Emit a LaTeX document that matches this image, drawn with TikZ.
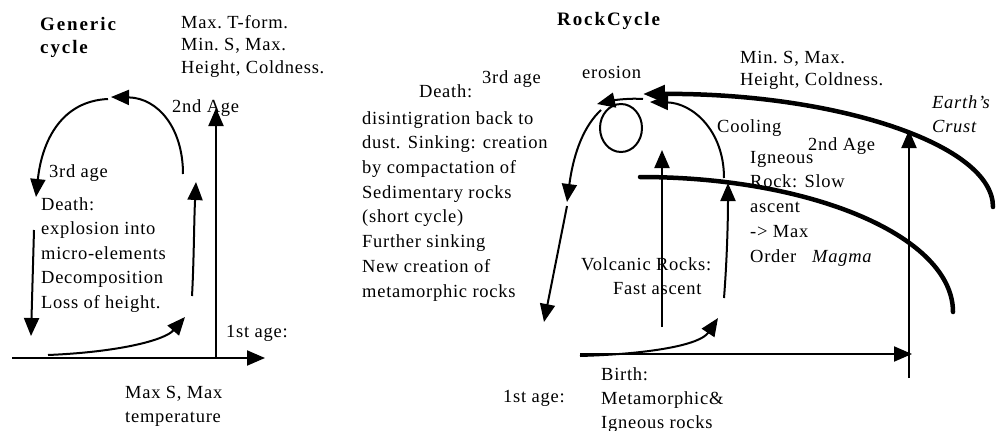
\documentclass[tikz,border=0pt]{standalone}
\usepackage{fontspec}
\setmainfont{Liberation Serif}[LetterSpace=4]
\usepackage{tikz}
\usetikzlibrary{arrows.meta}

\tikzset{
  txt/.style={anchor=base west, inner sep=0pt, align=left,
    font=\fontsize{18.5}{24.5}\selectfont},
  ttl/.style={txt, font=\fontsize{19}{23}\selectfont\bfseries\addfontfeature{LetterSpace=10}},
  lab/.style={txt, font=\fontsize{18.5}{24}\selectfont\itshape},
  ax/.style={line width=2pt, -{Triangle[length=18pt,width=15pt]}},
  cyc/.style={line width=2pt, -{Triangle[length=18pt,width=15pt]}},
  flow/.style={line width=2pt},
  layer/.style={line width=4.5pt, line cap=round}
}

\begin{document}
\begin{tikzpicture}[x=1pt,y=-1pt]
    \useasboundingbox (0,0) rectangle (997,431);

    % Generic cycle: texts (anchored at the last line)
    \node[ttl] (gentitle) at (40,53) {Generic\\cycle};
    \node[txt, font=\fontsize{18.5}{22.5}\selectfont] (genmax) at (181,73)
        {Max.\ T-form.\\Min.\ S, Max.\\Height, Coldness.};
    \node[txt] (gen2nd) at (172,112) {2nd Age};
    \node[txt] (gen3rd) at (49,177) {3rd age};
    \node[txt] (gendeath) at (41,308)
        {Death:\\explosion into\\micro-elements\\Decomposition\\Loss of height.};
    \node[txt] (gen1st) at (226,337) {1st age:};
    \node[txt, font=\fontsize{18.5}{24}\selectfont] (genmaxs) at (125,422)
        {Max S, Max\\temperature};

    % Generic cycle: axes
    \coordinate (gO) at (216,358);
    \coordinate (gxs) at (12,358);
    \coordinate (gxe) at (265,358);
    \coordinate (gye) at (216,108);
    \draw[ax] (gxs) -- (gxe);
    \draw[ax] (gO) -- (gye);

    % Generic cycle: the loop
    \coordinate (g1) at (48,355);
    \coordinate (g2) at (185,317);
    \coordinate (g3) at (192,296);
    \coordinate (g4) at (196,182);
    \coordinate (g5) at (183,174);
    \coordinate (g6) at (111,97);
    \coordinate (g7) at (108,99);
    \coordinate (g8) at (36,197);
    \coordinate (g9) at (34,230);
    \coordinate (g10) at (31,336);
    \draw[cyc] (g1) .. controls (120,352) and (165,340) .. (g2);
    \draw[cyc] (g3) .. controls (194,260) and (194,220) .. (g4);
    \draw[cyc] (g5) .. controls (183,128) and (158,98) .. (g6);
    \draw[cyc] (g7) .. controls (62,101) and (42,140) .. (g8);
    \draw[cyc] (g9) -- (g10);

    % Rock cycle: texts (anchored at the last line)
    \node[ttl] (rctitle) at (557,25) {RockCycle};
    \node[txt, font=\fontsize{18.5}{22}\selectfont] (rcmin) at (740,85)
        {Min.\ S, Max.\\Height, Coldness.};
    \node[txt] (rcero) at (582,78) {erosion};
    \node[txt] (rc3rd) at (482,83) {3rd age};
    \node[txt] (rcdeath) at (419,97) {Death:};
    \node[txt, font=\fontsize{18.5}{24.7}\selectfont] (rcdesc) at (362,297)
        {disintigration back to\\dust. Sinking: creation\\by compactation of\\Sedimentary rocks\\(short cycle)\\Further sinking\\New creation of\\metamorphic rocks};
    \node[txt] (rc1st) at (503,402) {1st age:};
    \node[txt, font=\fontsize{18.5}{24}\selectfont] (rcbirth) at (601,428)
        {Birth:\\Metamorphic\&\\Igneous rocks};
    \node[txt] (rcvolc) at (581,294.5) {Volcanic Rocks:\\\hspace*{32pt}Fast ascent};
    \node[txt] (rccool) at (717,132) {Cooling};
    \node[txt] (rc2nd) at (808,150) {2nd Age};
    \node[txt, font=\fontsize{18.5}{24.75}\selectfont] (rcign) at (750,262)
        {Igneous\\Rock: Slow\\ascent\\-> Max\\Order};
    \node[lab] (rcmagma) at (812,262) {Magma};
    \node[lab] (rccrust) at (932,132) {Earth's\\Crust};

    % Rock cycle: axes
    \coordinate (rO) at (909,378);
    \coordinate (rxs) at (580,354);
    \coordinate (rxe) at (912,354);
    \coordinate (rye) at (909,130);
    \draw[ax] (rxs) -- (rxe);
    \draw[ax] (rO) -- (rye);

    % Rock cycle: crust and magma
    \coordinate (cr0) at (993,207);
    \coordinate (cr1) at (643,94);
    \coordinate (mg0) at (640,177);
    \coordinate (mg1) at (953,312);
    \draw[layer, -{Triangle[length=22pt,width=17pt]}]
        (cr0) .. controls (993,144) and (835,93) .. (cr1);
    \draw[layer] (mg0) .. controls (813,177) and (953,237) .. (mg1);

    % Rock cycle: ascent and erosion
    \coordinate (r1) at (580,356);
    \coordinate (r2) at (718,318);
    \coordinate (r3) at (662,327);
    \coordinate (r4) at (662,150);
    \coordinate (r5) at (724,298);
    \coordinate (r6) at (728,183);
    \coordinate (r7) at (724,178);
    \coordinate (r8) at (650,102);
    \coordinate (r9) at (643,99);
    \coordinate (r10) at (597,104);
    \coordinate (r11) at (601,110);
    \coordinate (r12) at (567,202);
    \coordinate (r13) at (567,206);
    \coordinate (r14) at (544,322);
    \draw[cyc] (r1) .. controls (650,354) and (700,345) .. (r2);
    \draw[cyc] (r3) -- (r4);
    \draw[cyc] (r5) .. controls (727,260) and (728,220) .. (r6);
    \draw[cyc] (r7) .. controls (724,130) and (692,103) .. (r8);
    \draw[cyc] (r9) .. controls (630,98) and (615,100) .. (r10);
    \draw[cyc] (r11) .. controls (585,125) and (574,150) .. (r12);
    \draw[cyc] (r13) -- (r14);
    \draw[flow] (621,128) ellipse (21 and 24);
\end{tikzpicture}
\end{document}
